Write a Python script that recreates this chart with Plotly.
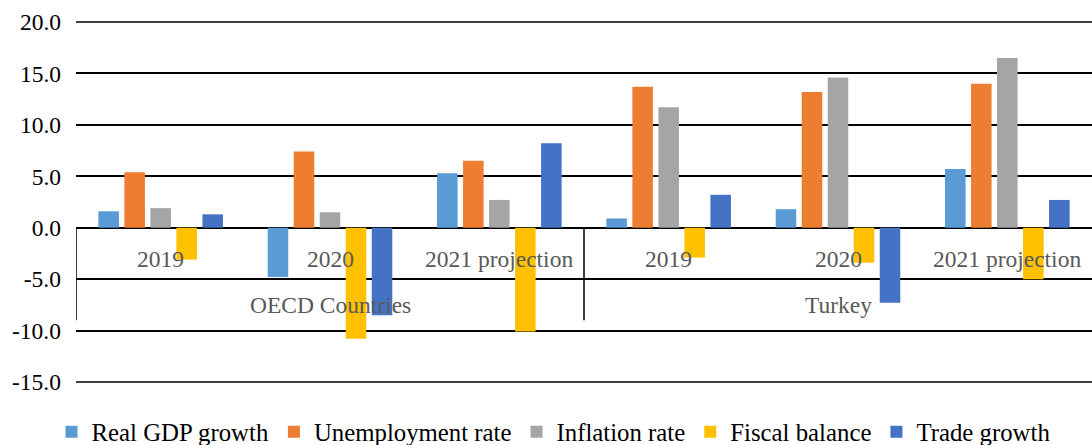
import plotly.graph_objects as go

groups = ["OECD Countries", "Turkey"]
years = ["2019", "2020", "2021 projection"]
categories = [f"{g} {y}" for g in groups for y in years]

series_names = ["Real GDP growth", "Unemployment rate", "Inflation rate", "Fiscal balance", "Trade growth"]
real_gdp = [1.6, -4.8, 5.3, 0.9, 1.8, 5.7]
unemployment = [5.4, 7.4, 6.5, 13.7, 13.2, 14.0]
inflation = [1.9, 1.5, 2.7, 11.7, 14.6, 16.5]
fiscal = [-3.1, -10.8, -10.1, -2.9, -3.4, -5.0]
trade = [1.3, -8.5, 8.2, 3.2, -7.3, 2.7]
colors = ["#5B9BD5", "#ED7D31", "#A5A5A5", "#FFC000", "#4472C4"]

y_tickvals = [-15, -10, -5, 0, 5, 10, 15, 20]
y_ticktext = ["-15.0", "-10.0", "-5.0", "0.0", "5.0", "10.0", "15.0", "20.0"]

FONT = "Liberation Serif, Times New Roman, serif"
FS = 23.5

fig = go.Figure()
for name, vals, col in zip(series_names, [real_gdp, unemployment, inflation, fiscal, trade], colors):
    fig.add_trace(go.Bar(name=name, x=categories, y=vals, marker=dict(color=col, line=dict(width=0))))

# category label table
for i, cat in enumerate(categories):
    fig.add_annotation(x=i, y=-3.0, xref="x", yref="y", text=years[i % 3], showarrow=False,
                       font=dict(family=FONT, size=FS, color="#595959"))
for j, g in enumerate(groups):
    fig.add_annotation(x=1 + 3 * j, y=-7.55, xref="x", yref="y", text=g, showarrow=False,
                       font=dict(family=FONT, size=FS, color="#595959"))
for xv in [-0.5, 2.5]:
    fig.add_shape(type="line", x0=xv, x1=xv, y0=0, y1=-9.0, xref="x", yref="y",
                  line=dict(color="black", width=1.5), layer="above")
# edge gridlines (plotly clips gridlines at the range ends)
for yp in [0, 1]:
    fig.add_shape(type="line", x0=0, x1=1, y0=yp, y1=yp, xref="paper", yref="paper",
                  line=dict(color="black", width=1.5), layer="below")

fig.update_layout(
    width=1092, height=445,
    margin=dict(l=76, r=0, t=22, b=63, autoexpand=False),
    paper_bgcolor="white", plot_bgcolor="white",
    barmode="group", bargap=0.232, bargroupgap=0.21,
    font=dict(family=FONT, size=FS, color="black"),
    legend=dict(orientation="h", x=0.47, xanchor="center", y=-0.139, yanchor="middle",
                font=dict(family=FONT, size=24.8, color="black"), itemwidth=30,
                traceorder="normal"),
    showlegend=True,
)
fig.update_xaxes(type="category", range=[-0.5, 5.5], showticklabels=False, showgrid=False,
                 showline=False, zeroline=False, ticks="")
fig.update_yaxes(range=[-15, 20], tickvals=y_tickvals, ticktext=y_ticktext, showgrid=True,
                 gridcolor="black", gridwidth=1.5, zeroline=True, zerolinecolor="black",
                 zerolinewidth=1.5, showline=False, ticks="", ticklabelstandoff=14,
                 tickfont=dict(family=FONT, size=FS, color="black"))

fig.write_html("out.html", config={"displayModeBar": False},
               post_script="document.body.style.margin='0';document.body.style.overflow='hidden';")
